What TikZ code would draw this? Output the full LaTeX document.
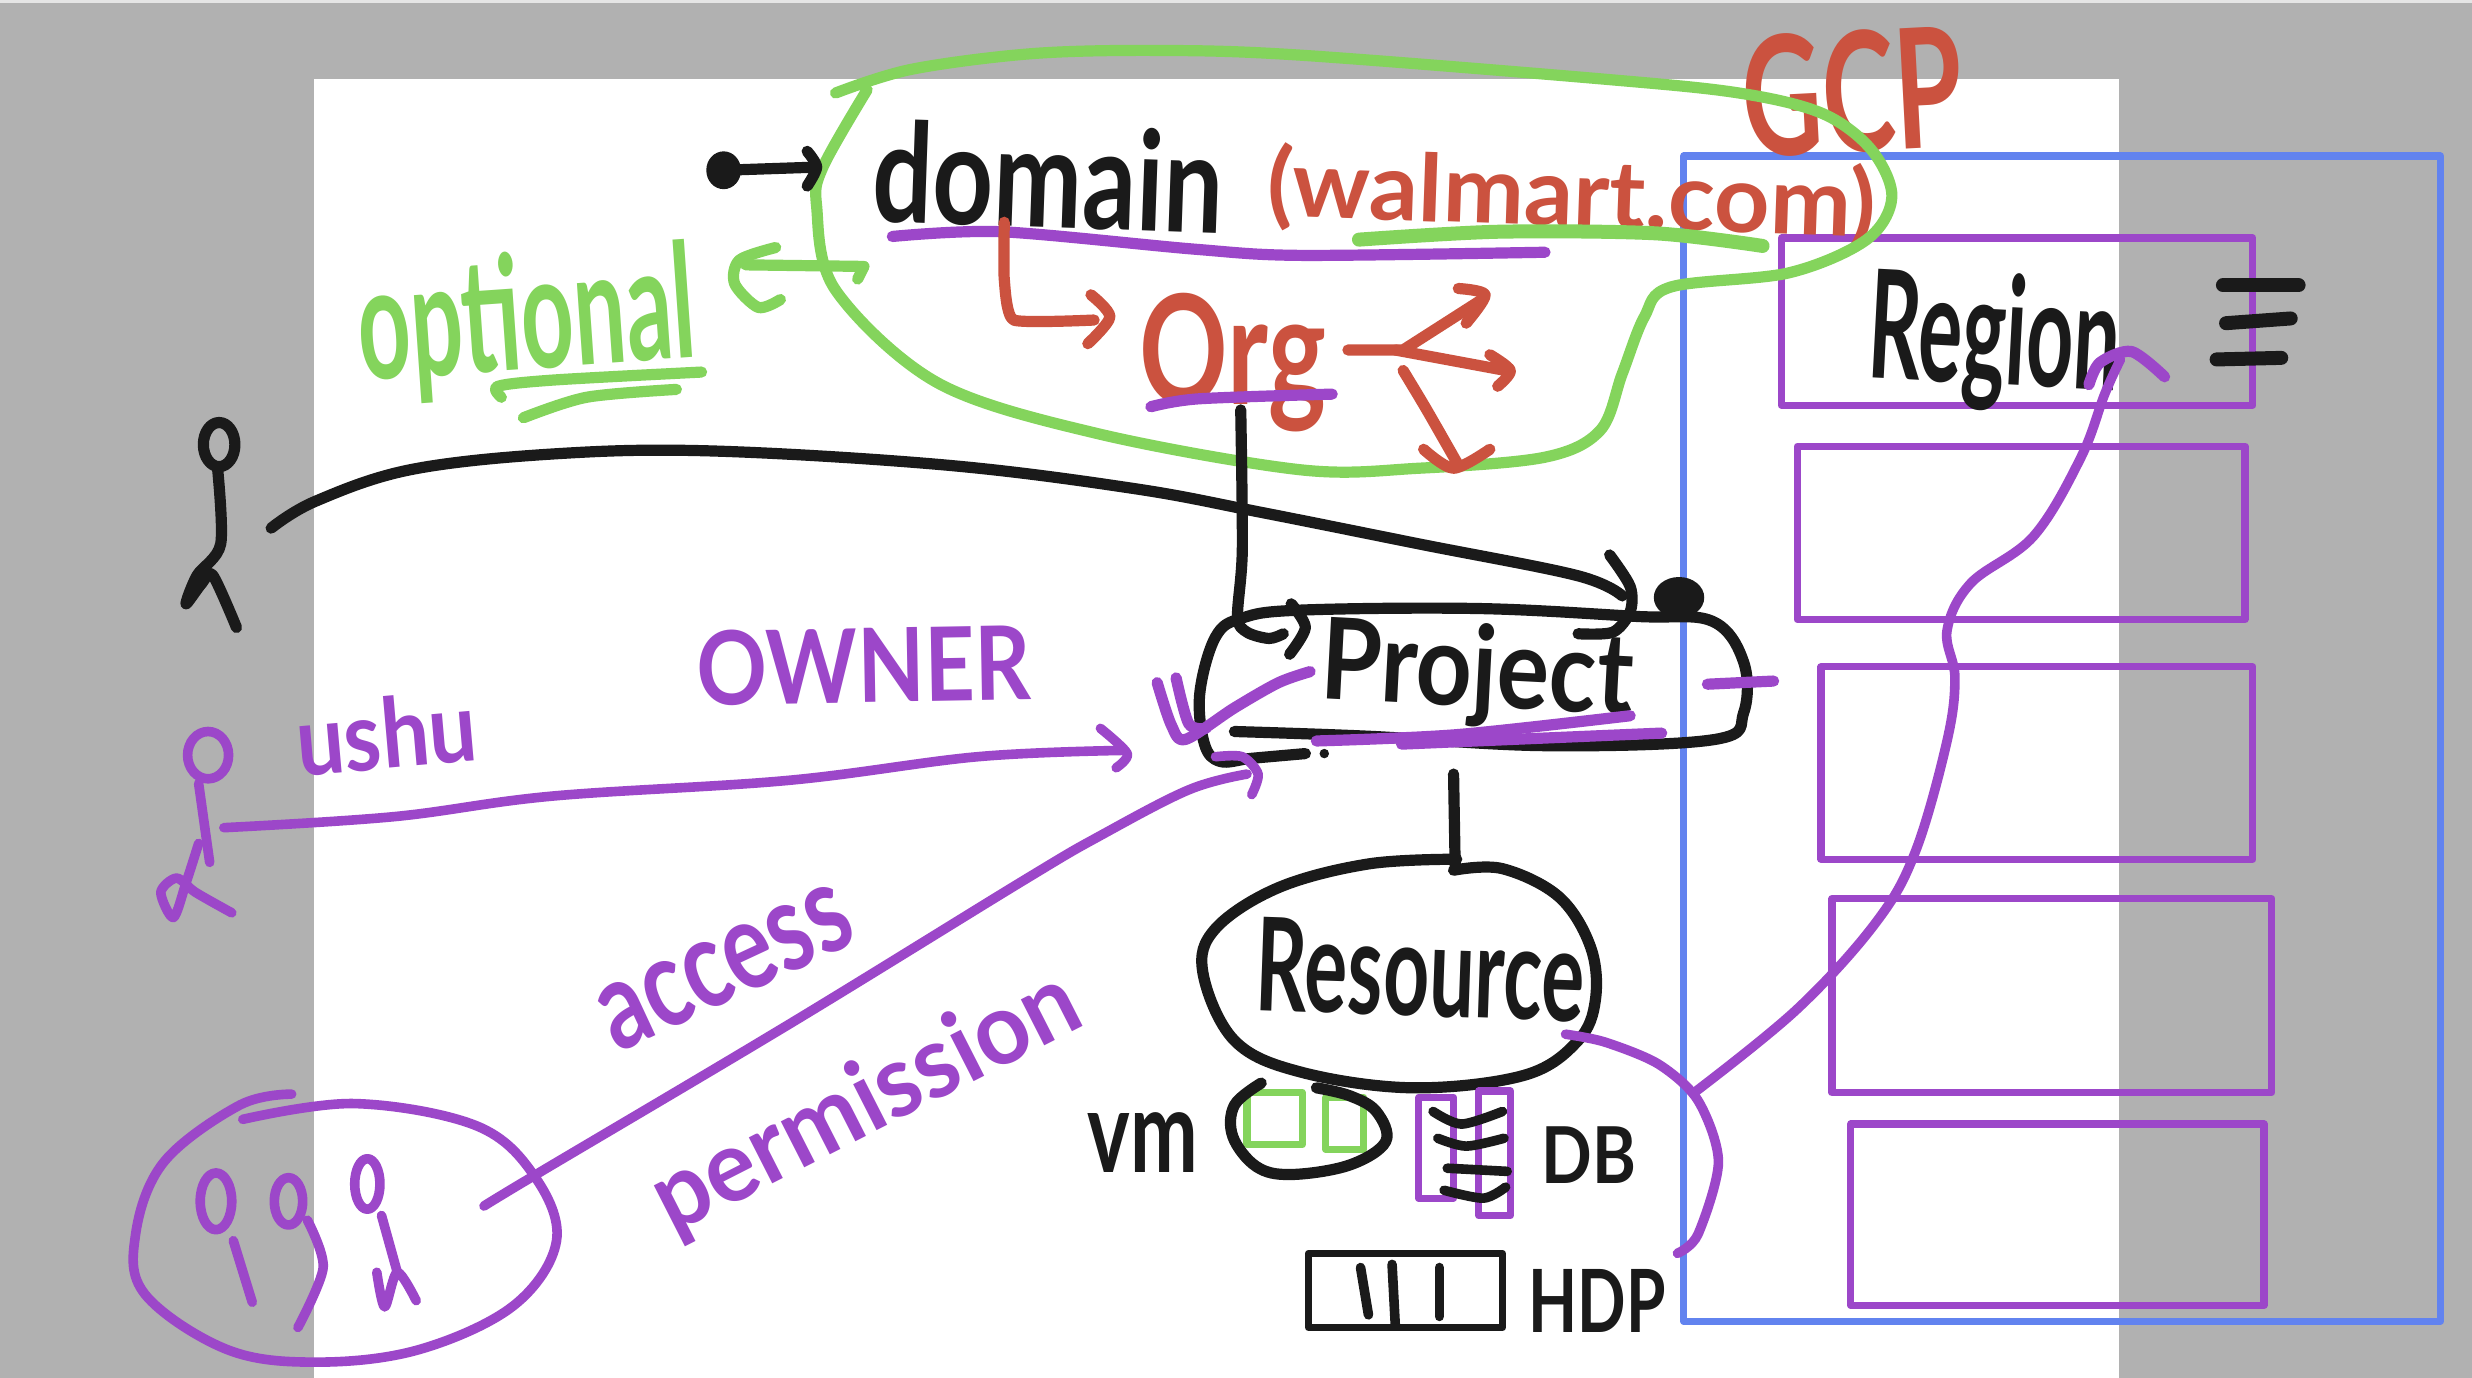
\documentclass[tikz,border=0pt]{standalone}
\usepackage{graphicx}
\usepackage{fontspec}
\setmainfont{Lato}

\definecolor{sheetgray}{HTML}{B1B1B1}
\definecolor{inkblack}{HTML}{1A1A1A}
\definecolor{inkgreen}{HTML}{84D45C}
\definecolor{inkred}{HTML}{CB523F}
\definecolor{inkpurple}{HTML}{9C47C9}
\definecolor{inkblue}{HTML}{6283EF}

% Рукописный текст: ширина, высота, строка
\newcommand{\handtext}[3]{\resizebox*{\dimexpr #1pt*788/1000\relax}{\dimexpr #2pt*788/1000\relax}{\bfseries #3}}

\begin{document}
\begin{tikzpicture}[
        x=0.788pt, y=-0.788pt,
        pen/.style={line width=5.6pt, line cap=round, line join=round},
        thin pen/.style={line width=4.8pt, line cap=round, line join=round},
        fat pen/.style={line width=7pt, line cap=round, line join=round},
        box/.style={line width=3.6pt, line join=round},
        word/.style={inner sep=0pt, outer sep=0pt},
    ]
    \useasboundingbox (0,0) rectangle (1568,874);
    \fill[sheetgray] (0,0) rectangle (1568,874);
    \fill[gray!20] (0,0) rectangle (1568,2);
    \fill[white] (199,50) rectangle (1344,874);

    % Рамка GCP и регионы
    \draw[box, inkblue] (1068,99) rectangle (1548,838);
    \draw[box, inkpurple] (1130,151) rectangle (1429,257);
    \draw[box, inkpurple] (1140,283) rectangle (1424,393);
    \draw[box, inkpurple] (1155,423) rectangle (1429,545);
    \draw[box, inkpurple] (1162,570) rectangle (1441,693);
    \draw[box, inkpurple] (1174,713) rectangle (1436,828);

    % Подписи
    \node[word, text=inkblack, rotate=-2] (domain) at (665,112) {\handtext{222}{66}{domain}};
    \node[word, text=inkred, rotate=-2] (walmart) at (997,125) {\handtext{386}{56}{(walmart.com)}};
    \node[word, text=inkred] (org) at (782,230) {\handtext{118}{88}{Org}};
    \node[word, text=inkred, rotate=3] (gcp) at (1175,58) {\handtext{140}{78}{GCP}};
    \node[word, text=inkgreen, rotate=4] (optional) at (334,205) {\handtext{214}{92}{optional}};
    \node[word, text=inkblack, rotate=-3] (region) at (1265,217) {\handtext{160}{88}{Region}};
    \node[word, text=inkblack, rotate=-3] (project) at (937,428) {\handtext{198}{66}{Project}};
    \node[word, text=inkblack, rotate=-2] (resource) at (901,615) {\handtext{208}{60}{Resource}};
    \node[word, text=inkblack] (vm) at (725,725) {\handtext{70}{38}{vm}};
    \node[word, text=inkblack] (db) at (1008,733) {\handtext{60}{36}{DB}};
    \node[word, text=inkblack] (hdp) at (1013,825) {\handtext{87}{40}{HDP}};
    \node[word, text=inkpurple, rotate=5] (ushu) at (245,465) {\handtext{115}{46}{ushu}};
    \node[word, text=inkpurple, rotate=1] (owner) at (548,422) {\handtext{212}{48}{OWNER}};
    \node[word, text=inkpurple, rotate=25] (access) at (460,614) {\handtext{170}{42}{access}};
    \node[word, text=inkpurple, rotate=27] (permission) at (550,700) {\handtext{295}{58}{permission}};

    % Точки концов
    \coordinate (dotA) at (459,108);
    \coordinate (domainIn) at (518,106);
    \coordinate (orgOut) at (787,260);
    \coordinate (projIn) at (785,391);
    \coordinate (manStart) at (172,335);
    \coordinate (manEnd) at (1029,378);
    \coordinate (ushuStart) at (142,525);
    \coordinate (ushuEnd) at (712,476);
    \coordinate (groupStart) at (307,765);
    \coordinate (groupEnd) at (791,491);
    \coordinate (projOut) at (922,491);
    \coordinate (resIn) at (923,549);
    \coordinate (resOut) at (993,656);
    \coordinate (hopEnd) at (1064,795);
    \coordinate (bendA) at (1076,692);
    \coordinate (regionIn) at (1345,228);

    % Зеленый контур и optional
    \draw[pen, inkgreen] plot[smooth, tension=0.55] coordinates {(530,59) (578,44) (655,34) (736,32) (825,35) (1015,50) (1103,59) (1156,72) (1187,95) (1200,125) (1184,152) (1135,173) (1060,182) (1043,201) (1029,237) (1015,273) (980,290) (900,297) (825,298) (696,275) (595,243) (530,184) (518,131) (522,106) (550,57)};
    \draw[pen, inkgreen] (548,169) -- (473,168);
    \draw[pen, inkgreen] plot[smooth] coordinates {(548,169) (544,177)};
    \draw[pen, inkgreen] plot[smooth] coordinates {(492,157) (469,165) (466,180) (481,195) (495,190)};
    \draw[pen, inkgreen] plot[smooth] coordinates {(445,236) (352,241) (316,245) (318,252)};
    \draw[pen, inkgreen] plot[smooth] coordinates {(429,247) (372,252) (332,265)};
    \draw[fat pen, inkgreen] plot[smooth] coordinates {(862,152) (950,147) (1050,148) (1118,156)};

    % Домен и org
    \fill[inkblack] (dotA) ellipse (11 and 12);
    \draw[pen, inkblack] (dotA) -- (domainIn);
    \draw[pen, inkblack] plot[smooth] coordinates {(512,96) (518,106) (512,118)};
    \draw[pen, inkpurple] plot[smooth] coordinates {(566,150) (635,147) (757,158) (825,162) (980,160)};
    \draw[pen, inkred] plot[smooth, tension=0.3] coordinates {(637,141) (637,177) (643,203) (694,203)};
    \draw[pen, inkred] plot[smooth] coordinates {(692,187) (704,201) (690,218)};
    \draw[pen, inkpurple] plot[smooth] coordinates {(730,258) (760,253) (845,250)};
    \draw[pen, inkred] (855,222) -- (890,222) -- (940,190);
    \draw[pen, inkred] plot[smooth] coordinates {(925,183) (942,187) (930,205)};
    \draw[pen, inkred] (885,222) -- (955,235);
    \draw[pen, inkred] plot[smooth] coordinates {(945,225) (958,235) (950,245)};
    \draw[pen, inkred] plot[smooth] coordinates {(890,235) (905,260) (925,295)};
    \draw[pen, inkred] plot[smooth] coordinates {(903,285) (922,297) (945,285)};

    % Проект
    \draw[pen, inkblack] plot[smooth] coordinates {(orgOut) (788,349) (projIn) (791,401) (805,405) (814,402)};
    \draw[pen, inkblack] plot[smooth] coordinates {(819,383) (828,398) (818,415)};
    \draw[pen, inkblack] plot[smooth, tension=0.6] coordinates {(783,464) (868,467) (981,473) (1088,469) (1106,452) (1106,420) (1086,394) (1038,391) (938,386) (825,387) (788,392) (771,404) (761,440) (764,472) (774,483) (794,481) (828,478)};
    \fill[inkblack] (840,478) circle (3);
    \draw[pen, inkblack] plot[smooth, tension=0.6] coordinates {(manStart) (200,318) (260,298) (350,288) (450,286) (600,295) (720,310) (800,325) (900,345) (1000,365) (manEnd)};
    \draw[pen, inkblack] plot[smooth] coordinates {(1021,352) (1034,372) (1034,388) (1023,401) (1001,402)};
    \fill[inkblack] (1065,379) ellipse (16 and 13);
    \draw[pen, inkpurple] plot[smooth] coordinates {(835,470) (924,466) (1034,454)};
    \draw[pen, inkpurple] plot[smooth] coordinates {(889,472) (1054,465)};
    \draw[pen, inkpurple] (1083,434) -- (1125,432);
    \draw[pen, inkpurple] plot[smooth] coordinates {(831,426) (811,433) (783,449) (752,469) (743,460) (734,433)};
    \draw[pen, inkpurple] plot[smooth] coordinates {(746,430) (754,459) (765,462)};

    % Ресурс
    \draw[pen, inkblack] (projOut) -- (resIn);
    \draw[pen, inkblack] plot[smooth, tension=0.6] coordinates {(922,552) (953,551) (989,569) (1009,601) (1012,634) (1001,660) (967,682) (896,690) (825,680) (783,660) (763,617) (771,589) (811,563) (868,548) (924,545)};
    \draw[box, inkgreen] (791,693) rectangle (826,726);
    \draw[box, inkgreen] (841,696) rectangle (865,729);
    \draw[pen, inkblack] plot[smooth, tension=0.6] coordinates {(800,687) (783,701) (782,721) (797,740) (819,745) (856,739) (879,724) (873,705) (856,695) (835,690)};
    \draw[box, inkpurple] (900,696) rectangle (922,760);
    \draw[box, inkpurple] (938,692) rectangle (958,771);
    \draw[thin pen, inkblack] plot[smooth] coordinates {(909,705) (927,713) (953,705)};
    \draw[thin pen, inkblack] plot[smooth] coordinates {(912,722) (930,727) (954,722)};
    \draw[thin pen, inkblack] (918,741) -- (956,743);
    \draw[thin pen, inkblack] plot[smooth] coordinates {(916,755) (941,760) (955,753)};
    \draw[box, inkblack] (830,795) rectangle (953,842);
    \draw[thin pen, inkblack] (863,804) -- (868,834);
    \draw[thin pen, inkblack] (883,802) -- (885,840);
    \draw[thin pen, inkblack] (913,804) -- (913,835);

    % Справа
    \draw[thin pen, inkpurple] plot[smooth] coordinates {(resOut) (1018,661) (1052,675) (1077,698) (1090,737) (1077,783) (hopEnd)};
    \draw[thin pen, inkpurple] plot[smooth, tension=0.6] coordinates {(bendA) (1140,640) (1190,585) (1215,540) (1235,470) (1240,430) (1235,400) (1250,370) (1290,340) (1320,290) (1335,250) (regionIn)};
    \draw[pen, inkpurple] plot[smooth] coordinates {(1325,244) (1332,230) (1352,223) (1373,239)};
    \draw[fat pen, inkblack] (1410,181) -- (1458,181);
    \draw[fat pen, inkblack] (1412,205) -- (1453,202);
    \draw[fat pen, inkblack] (1406,228) -- (1447,227);

    % Люди
    \draw[pen, inkblack] (139,282) ellipse (10 and 14);
    \draw[pen, inkblack] plot[smooth] coordinates {(138,297) (140,345) (125,365) (118,383) (128,370) (135,365) (150,398)};
    \draw[thin pen, inkpurple] (132,479) ellipse (13 and 15);
    \draw[thin pen, inkpurple] plot[smooth] coordinates {(126,497) (133,547)};
    \draw[thin pen, inkpurple] plot[smooth] coordinates {(126,535) (118,560) (110,582) (102,566) (112,557) (124,566) (147,579)};
    \draw[thin pen, inkpurple] plot[smooth, tension=0.6] coordinates {(ushuStart) (250,518) (350,505) (500,495) (620,480) (ushuEnd)};
    \draw[thin pen, inkpurple] plot[smooth] coordinates {(698,462) (715,478) (708,487)};
    \draw[thin pen, inkpurple] plot[smooth, tension=0.6] coordinates {(groupStart) (340,745) (500,650) (650,558) (698,530) (754,501) (groupEnd)};
    \draw[thin pen, inkpurple] plot[smooth] coordinates {(771,480) (788,480) (798,491) (794,504)};

    % Группа
    \draw[thin pen, inkpurple] plot[smooth, tension=0.6] coordinates {(185,694) (152,701) (104,737) (86,783) (92,821) (144,856) (201,864) (266,856) (326,828) (353,787) (339,746) (302,714) (225,700) (154,710)};
    \draw[thin pen, inkpurple] (137,762) ellipse (10 and 18);
    \draw[thin pen, inkpurple] (148,787) -- (160,826);
    \draw[thin pen, inkpurple] (183,762) ellipse (9 and 15);
    \draw[thin pen, inkpurple] plot[smooth] coordinates {(195,774) (205,804) (189,842)};
    \draw[thin pen, inkpurple] (233,751) ellipse (8 and 16);
    \draw[thin pen, inkpurple] (242,771) -- (252,807);
    \draw[thin pen, inkpurple] plot[smooth] coordinates {(239,807) (244,829) (252,807) (264,825)};
\end{tikzpicture}
\end{document}
